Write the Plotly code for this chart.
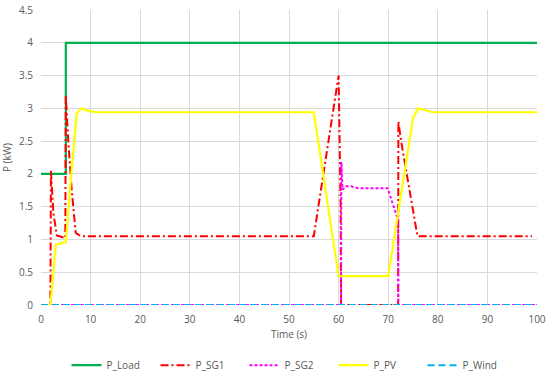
import plotly.graph_objects as go

# Time (s) and power (kW) for each series
load_t = [0, 5, 5, 100]
load_p = [2.0, 2.0, 4.0, 4.0]

sg1_t = [0, 1.9, 2.0, 2.5, 3.2, 4.9, 5.0, 5.5, 6.2, 7.0, 8.0, 10, 55.0, 60.0, 60.4, 60.5, 72.0, 72.05, 72.6, 75.9, 76.5, 99]
sg1_p = [0, 0, 2.05, 1.4, 1.06, 1.02, 3.2, 2.5, 1.75, 1.1, 1.05, 1.05, 1.05, 3.5, 1.55, 0, 0, 2.8, 2.5, 1.05, 1.05, 1.05]

sg2_t = [0, 60.5, 60.55, 60.8, 61.5, 62.5, 64.0, 69.9, 71.8, 72.0, 72.05, 100]
sg2_p = [0, 0, 2.18, 1.76, 1.81, 1.81, 1.78, 1.78, 1.34, 1.34, 0, 0]

pv_t = [0, 1.9, 3.0, 5.0, 6.0, 7.2, 8.2, 9.5, 11.2, 55.0, 60.0, 70.0, 75.0, 76.0, 77.5, 79.0, 100]
pv_p = [0, 0, 0.92, 0.96, 1.9, 2.92, 3.0, 2.96, 2.94, 2.94, 0.44, 0.44, 2.85, 3.0, 2.97, 2.94, 2.94]

wind_t = [0, 100]
wind_p = [0, 0]

x_ticks = [0, 10, 20, 30, 40, 50, 60, 70, 80, 90, 100]
y_ticks = [0, 0.5, 1, 1.5, 2, 2.5, 3, 3.5, 4, 4.5]

fig = go.Figure()
fig.add_trace(go.Scatter(x=load_t, y=load_p, mode="lines", name="P_Load",
                         line=dict(color="#00B050", width=2.2)))
fig.add_trace(go.Scatter(x=sg1_t, y=sg1_p, mode="lines", name="P_SG1",
                         line=dict(color="#FF0000", width=2, dash="8px,3px,2px,3px")))
fig.add_trace(go.Scatter(x=sg2_t, y=sg2_p, mode="lines", name="P_SG2",
                         line=dict(color="#FF00FF", width=2, dash="3px,2px")))
fig.add_trace(go.Scatter(x=pv_t, y=pv_p, mode="lines", name="P_PV",
                         line=dict(color="#FFFF00", width=2.2)))
fig.add_trace(go.Scatter(x=wind_t, y=wind_p, mode="lines", name="P_Wind",
                         line=dict(color="#00B0F0", width=2, dash="7px,4px")))

fig.update_layout(
    width=550, height=378,
    margin=dict(l=41, r=13, t=10, b=73),
    paper_bgcolor="white", plot_bgcolor="white",
    font=dict(family="Open Sans, Noto Sans, sans-serif", size=10, color="#595959"),
    showlegend=True,
    legend=dict(orientation="h", x=0.5, xanchor="center", yref="container", y=0.034,
                yanchor="middle", font=dict(size=10, color="#595959"),
                entrywidth=44, itemwidth=30),
)
fig.update_xaxes(range=[0, 100], tickvals=x_ticks, showgrid=True, gridcolor="#D9D9D9",
                 zeroline=False, showline=False, ticks="", ticklabelstandoff=7, automargin=False,
                 title=dict(text="Time (s)", font=dict(size=10, color="#595959"), standoff=5))
fig.update_yaxes(range=[0, 4.5], tickvals=y_ticks, showgrid=True, gridcolor="#D9D9D9",
                 zeroline=False, showline=False, ticks="", ticklabelstandoff=7, automargin=False,
                 title=dict(text="P (kW)", font=dict(size=10, color="#595959"), standoff=6))

fig.write_html("out.html", config={"displayModeBar": False},
               post_script="document.body.style.margin='0';document.body.style.padding='0';")
